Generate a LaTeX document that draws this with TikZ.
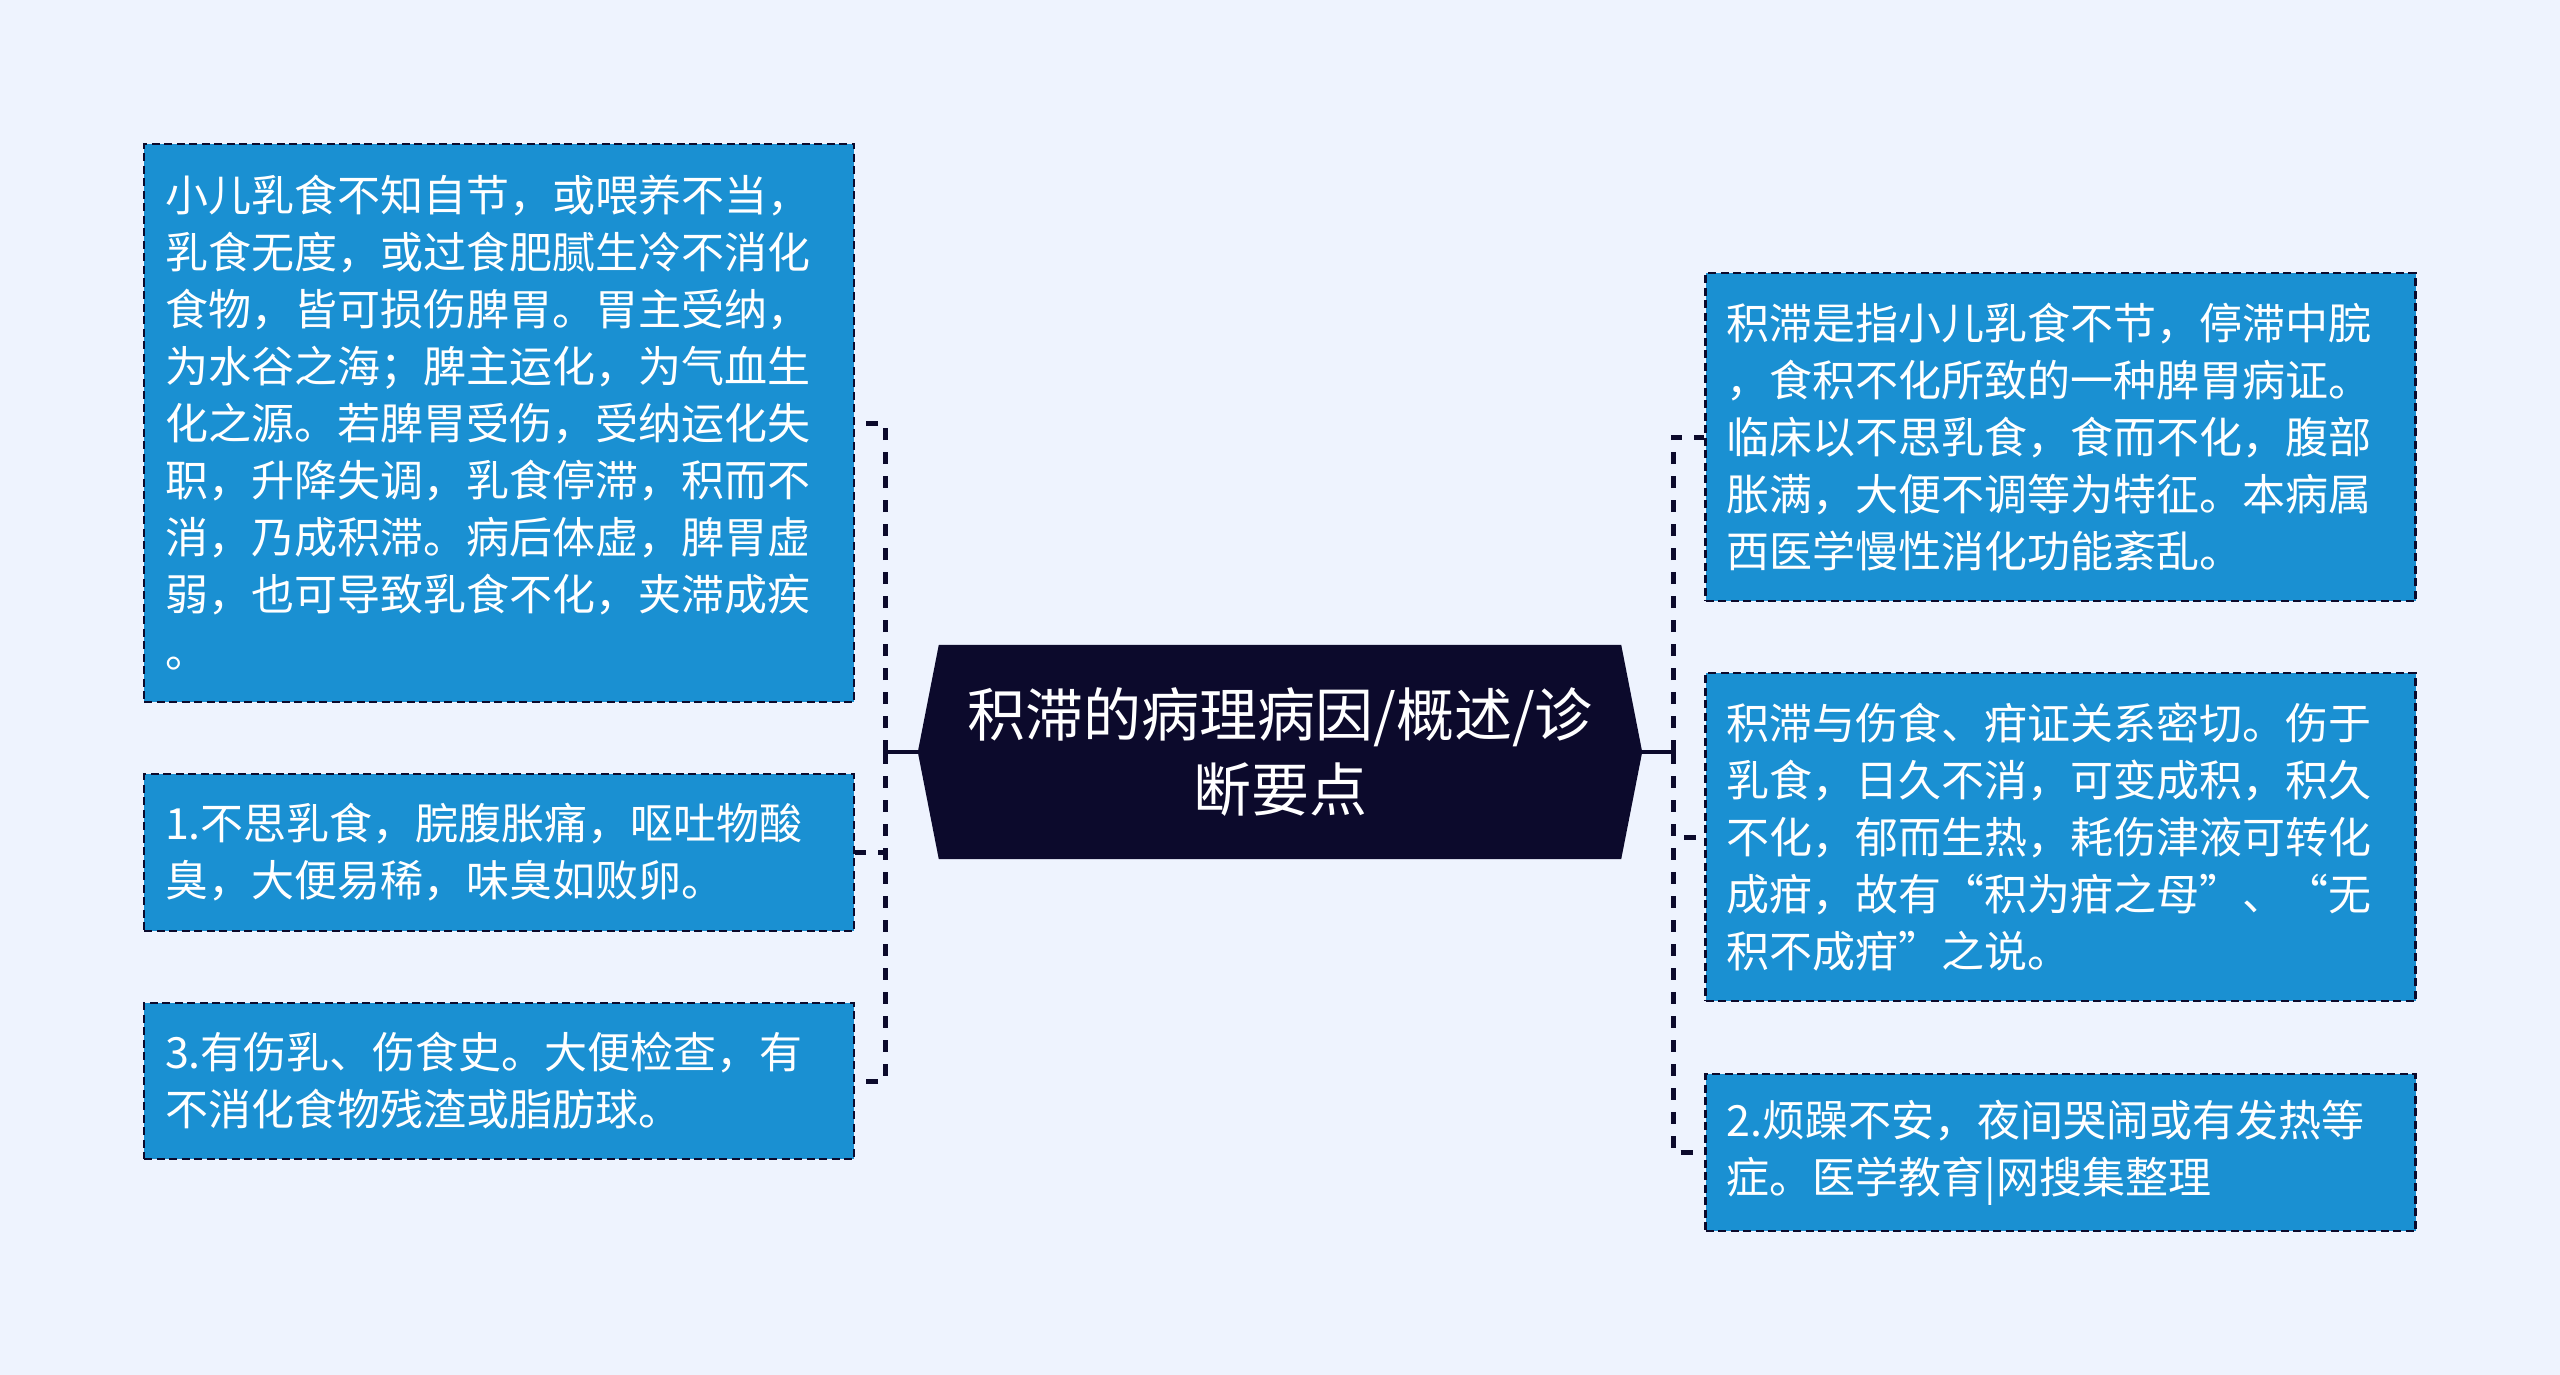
\documentclass[tikz,border=0pt]{standalone}
\usepackage{fontspec}
\setmainfont{Noto Sans CJK SC}
\definecolor{bg}{RGB}{238,243,254}
\definecolor{boxfill}{RGB}{26,144,210}
\definecolor{navy}{RGB}{12,10,44}
\begin{document}
\begin{tikzpicture}[x=1pt,y=-1pt,
  leaf/.style={draw=navy, line width=2.7pt, dash pattern=on 8pt off 4.5pt, fill=boxfill, text=white,
    font=\fontsize{43}{57}\selectfont, text width=668pt, inner xsep=21pt, inner ysep=0pt,
    align=left, minimum width=710pt},
  link/.style={draw=navy, line width=5pt, dash pattern=on 12pt off 12pt},
  stem/.style={draw=navy, line width=3.5pt}]
\fill[bg] (0,0) rectangle (2560,1375);
\useasboundingbox (0,0) rectangle (2560,1375);

% center
\node[minimum width=724pt, minimum height=214pt, inner sep=0pt] (c) at (1280,752) {};
\fill[navy] (c.west) -- ([xshift=21pt]c.north west) -- ([xshift=-21pt]c.north east) -- (c.east)
  -- ([xshift=-21pt]c.south east) -- ([xshift=21pt]c.south west) -- cycle;
\node[text=white, align=center, font=\fontsize{58}{75}\selectfont] (ct) at (c.center) {积滞的病理病因/概述/诊\\断要点};

% left boxes
\node[leaf, minimum height=558pt] (b1) at (499,423) {小儿乳食不知自节，或喂养不当，\\乳食无度，或过食肥腻生冷不消化\\食物，皆可损伤脾胃。胃主受纳，\\为水谷之海；脾主运化，为气血生\\化之源。若脾胃受伤，受纳运化失\\职，升降失调，乳食停滞，积而不\\消，乃成积滞。病后体虚，脾胃虚\\弱，也可导致乳食不化，夹滞成疾\\。};
\node[leaf, minimum height=157pt] (b2) at (499,852.5) {1.不思乳食，脘腹胀痛，呕吐物酸\\臭，大便易稀，味臭如败卵。};
\node[leaf, minimum height=156pt] (b3) at (499,1081) {3.有伤乳、伤食史。大便检查，有\\不消化食物残渣或脂肪球。};

% right boxes
\node[leaf, minimum height=328pt] (r1) at (2060.5,437) {积滞是指小儿乳食不节，停滞中脘\\，食积不化所致的一种脾胃病证。\\临床以不思乳食，食而不化，腹部\\胀满，大便不调等为特征。本病属\\西医学慢性消化功能紊乱。};
\node[leaf, minimum height=328pt] (r2) at (2060.5,837) {积滞与伤食、疳证关系密切。伤于\\乳食，日久不消，可变成积，积久\\不化，郁而生热，耗伤津液可转化\\成疳，故有“积为疳之母”、“无\\积不成疳”之说。};
\node[leaf, minimum height=157pt] (r3) at (2060.5,1152.5) {2.烦躁不安，夜间哭闹或有发热等\\症。医学教育|网搜集整理};

% connectors
\coordinate (lj) at (885,752);
\coordinate (rj) at (1673,752);
\draw[stem] (c.west) -- (lj);
\draw[stem] (c.east) -- (rj);
\draw[link] (lj) |- (b1.east);
\draw[link] (lj) |- (b2.east);
\draw[link] (lj) |- (b3.east);
\draw[link] (rj) |- (r1.west);
\draw[link] (rj) |- (r2.west);
\draw[link] (rj) |- (r3.west);
\end{tikzpicture}
\end{document}
